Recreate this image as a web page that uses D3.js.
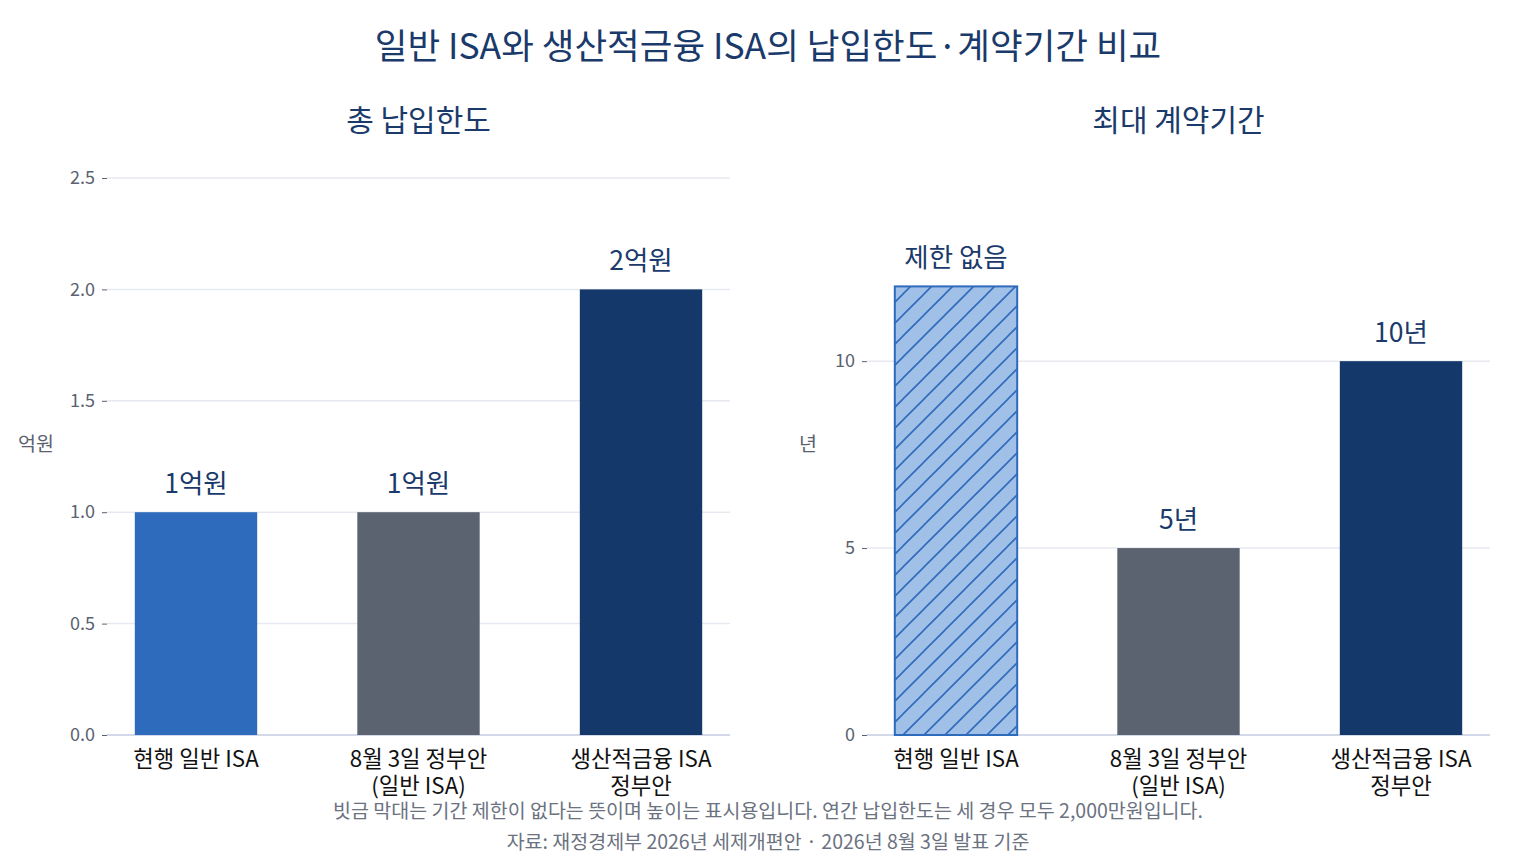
<!DOCTYPE html>
<html>
<head>
<meta charset="utf-8">
<script src="https://cdn.jsdelivr.net/npm/d3@7"></script>
<style>
  body { margin: 0; background: #fff; }
  svg { font-family: "Noto Sans CJK KR", "Noto Sans", sans-serif; }
</style>
</head>
<body>
<svg id="chart" width="1536" height="864"></svg>
<script>
const categories = [
  ["현행 일반 ISA"],
  ["8월 3일 정부안", "(일반 ISA)"],
  ["생산적금융 ISA", "정부안"],
];
const limitValues = [1, 1, 2];
const limitLabels = ["1억원", "1억원", "2억원"];
const limitTicks = [0, 0.5, 1, 1.5, 2, 2.5];
const termValues = [12, 5, 10]; // 12 = 표시용 높이 (제한 없음)
const termLabels = ["제한 없음", "5년", "10년"];
const termTicks = [0, 5, 10];
const barColors = ["#2f6bbd", "#5c6370", "#14386a"];

const svg = d3.select("#chart");
const plotTop = 178, plotBottom = 735;

svg.append("text")
  .attr("x", 768).attr("y", 43)
  .attr("text-anchor", "middle").attr("dominant-baseline", "central")
  .attr("font-size", "35.5px").attr("fill", "#1a3a6b")
  .text("일반 ISA와 생산적금융 ISA의 납입한도·계약기간 비교");

// 빗금 패턴
const defs = svg.append("defs");
const pat = defs.append("pattern")
  .attr("id", "hatch")
  .attr("patternUnits", "userSpaceOnUse")
  .attr("width", 21).attr("height", 21);
pat.append("rect").attr("width", 21).attr("height", 21).attr("fill", "#a0c0e8");
pat.append("path")
  .attr("d", "M-2,2 l4,-4 M0,21 l21,-21 M19,23 l4,-4")
  .attr("stroke", "#2f6bbd").attr("stroke-width", 1.6);

function drawPanel(opts) {
  const x = d3.scaleLinear().domain([-0.4, 2.4]).range([opts.left, opts.left + 623]);
  const y = d3.scaleLinear().domain([0, opts.yMax]).range([plotBottom, plotTop]);
  const g = svg.append("g");
  const bw = x(0.55) - x(0);

  // 격자
  g.append("g").selectAll("line").data(opts.ticks).join("line")
    .attr("x1", x(-0.4)).attr("x2", x(2.4))
    .attr("y1", (d) => y(d)).attr("y2", (d) => y(d))
    .attr("stroke", (d) => (d === 0 ? "#d3d9e8" : "#e6e9f0"))
    .attr("stroke-width", (d) => (d === 0 ? 2 : 1.5));

  // y축
  const yAxis = g.append("g")
    .attr("transform", `translate(${x(-0.4)},0)`)
    .call(d3.axisLeft(y).tickValues(opts.ticks).tickFormat(opts.fmt).tickSize(5).tickPadding(7));
  yAxis.select(".domain").remove();
  yAxis.selectAll(".tick line").attr("stroke", "#5a6270");
  yAxis.selectAll("text").attr("font-size", "18px").attr("fill", "#5a6270")
    .attr("font-family", "'Noto Sans CJK KR', sans-serif");

  // y축 제목
  g.append("text")
    .attr("x", opts.yTitleX).attr("y", 442)
    .attr("text-anchor", "middle").attr("dominant-baseline", "central")
    .attr("font-size", "19.5px").attr("fill", "#5a6270")
    .text(opts.yTitle);

  // 패널 제목
  g.append("text")
    .attr("x", x(1)).attr("y", 118)
    .attr("text-anchor", "middle").attr("dominant-baseline", "central")
    .attr("font-size", "30px").attr("fill", "#1a3a6b")
    .text(opts.title);

  // 막대
  g.append("g").selectAll("rect").data(opts.values).join("rect")
    .attr("x", (d, i) => x(i) - bw / 2)
    .attr("y", (d) => y(d))
    .attr("width", bw)
    .attr("height", (d) => y(0) - y(d))
    .attr("fill", (d, i) => (opts.hatch === i ? "url(#hatch)" : barColors[i]))
    .attr("stroke", (d, i) => (opts.hatch === i ? "#2f6bbd" : "none"))
    .attr("stroke-width", 2);

  // 값 라벨
  g.append("g").selectAll("text").data(opts.values).join("text")
    .attr("x", (d, i) => x(i))
    .attr("y", (d) => y(d) - 31)
    .attr("text-anchor", "middle").attr("dominant-baseline", "central")
    .attr("font-size", "26.5px").attr("fill", "#1a3a6b")
    .text((d, i) => opts.labels[i]);

  // x축 라벨
  const xt = g.append("g").selectAll("text").data(categories).join("text")
    .attr("x", (d, i) => x(i))
    .attr("y", 759)
    .attr("text-anchor", "middle")
    .attr("font-size", "22.3px").attr("fill", "#111");
  xt.selectAll("tspan").data((d) => d).join("tspan")
    .attr("x", function () { return d3.select(this.parentNode).attr("x"); })
    .attr("dy", (d, j) => (j === 0 ? "0.35em" : "1.2em"))
    .text((d) => d);
}

drawPanel({
  left: 107, yMax: 2.5, ticks: limitTicks, fmt: d3.format(".1f"),
  values: limitValues, labels: limitLabels,
  title: "총 납입한도", yTitle: "억원", yTitleX: 36,
});

drawPanel({
  left: 867, yMax: 14.9, ticks: termTicks, fmt: d3.format("d"),
  values: termValues, labels: termLabels, hatch: 0,
  title: "최대 계약기간", yTitle: "년", yTitleX: 808,
});

svg.append("text")
  .attr("x", 768).attr("y", 809)
  .attr("text-anchor", "middle").attr("dominant-baseline", "central")
  .attr("font-size", "19.5px").attr("fill", "#6b7280")
  .text("빗금 막대는 기간 제한이 없다는 뜻이며 높이는 표시용입니다. 연간 납입한도는 세 경우 모두 2,000만원입니다.");

svg.append("text")
  .attr("x", 768).attr("y", 840)
  .attr("text-anchor", "middle").attr("dominant-baseline", "central")
  .attr("font-size", "19.5px").attr("fill", "#6b7280")
  .text("자료: 재정경제부 2026년 세제개편안 · 2026년 8월 3일 발표 기준");
</script>
</body>
</html>
